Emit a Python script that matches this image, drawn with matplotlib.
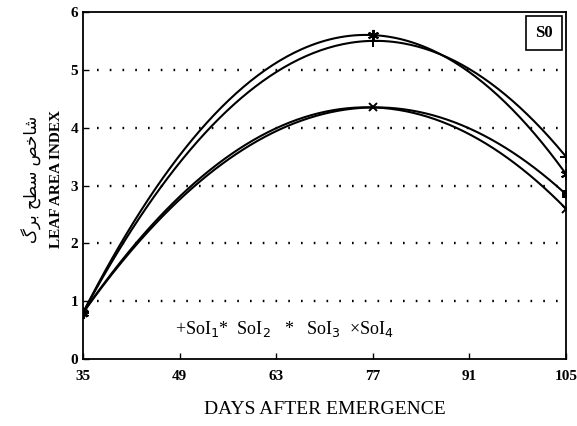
import numpy as np
import matplotlib
matplotlib.use("Agg")
import matplotlib.pyplot as plt

# days after emergence where values were read
days = [35, 77, 105]
soi1 = [0.8, 5.5, 3.5]
soi2 = [0.8, 5.6, 3.2]
soi3 = [0.8, 4.35, 2.85]
soi4 = [0.8, 4.35, 2.6]
xticks = [35, 49, 63, 77, 91, 105]
yticks = [0, 1, 2, 3, 4, 5, 6]

# Persian label, pre-shaped (visual order) because matplotlib does no Arabic shaping
fa_label = "\uFB92\uFEAE\uFE91 \uFEA2\uFEC4\uFEB3 \uFEBA\uFEA7\uFE8E\uFEB7"

plt.rcParams['font.family'] = ['Liberation Serif', 'DejaVu Serif']

fig = plt.figure(figsize=(5.77, 4.26), dpi=100)
ax = fig.add_axes([0.1438, 0.157, 0.837, 0.815])

series = [(soi1, '+', 9, None), (soi2, (6, 2, 0), 8, None),
          (soi3, 's', 4, [2]), (soi4, 'x', 6, None)]
xs = np.linspace(days[0], days[-1], 200)
for vals, mk, ms, every in series:
    coef = np.polyfit(days, vals, 2)
    ax.plot(xs, np.polyval(coef, xs), color='black', lw=1.5)
    ax.plot(days, vals, linestyle='none', marker=mk, ms=ms, color='black',
            mew=1.4, markevery=every)

for y in yticks[1:-1]:
    ax.axhline(y, xmin=0.03, xmax=0.99, color='black', lw=1.7, linestyle=(0, (0.7, 4.7)))

ax.set_xlim(35, 105)
ax.set_ylim(0, 6)
ax.set_xticks(xticks)
ax.set_yticks(yticks)
ax.tick_params(direction='in', length=4, width=1, labelsize=11, colors='black')
ax.tick_params(axis='x', pad=8)
for lab in ax.get_xticklabels() + ax.get_yticklabels():
    lab.set_fontweight('bold')
for s in ax.spines.values():
    s.set_linewidth(1.3)

ax.set_xlabel("DAYS AFTER EMERGENCE", fontsize=14, labelpad=13)

fig.text(0.056, 0.58, fa_label, rotation=90, ha='center', va='center',
         fontsize=12, family=['DejaVu Sans'])
fig.text(0.098, 0.58, "LEAF AREA INDEX", rotation=90, ha='center', va='center',
         fontsize=11, fontweight='bold')

ax.text(0.955, 0.963, "S0", transform=ax.transAxes, ha='center', va='top',
        fontsize=12, fontweight='bold',
        bbox=dict(boxstyle='square,pad=0.55', fc='white', ec='black', lw=1.2))

ax.text(48.4, 0.52, "+SoI$_1$*  SoI$_2$   *   SoI$_3$  ×SoI$_4$", fontsize=13,
        ha='left', va='center')

fig.savefig("out.png", dpi=100)
